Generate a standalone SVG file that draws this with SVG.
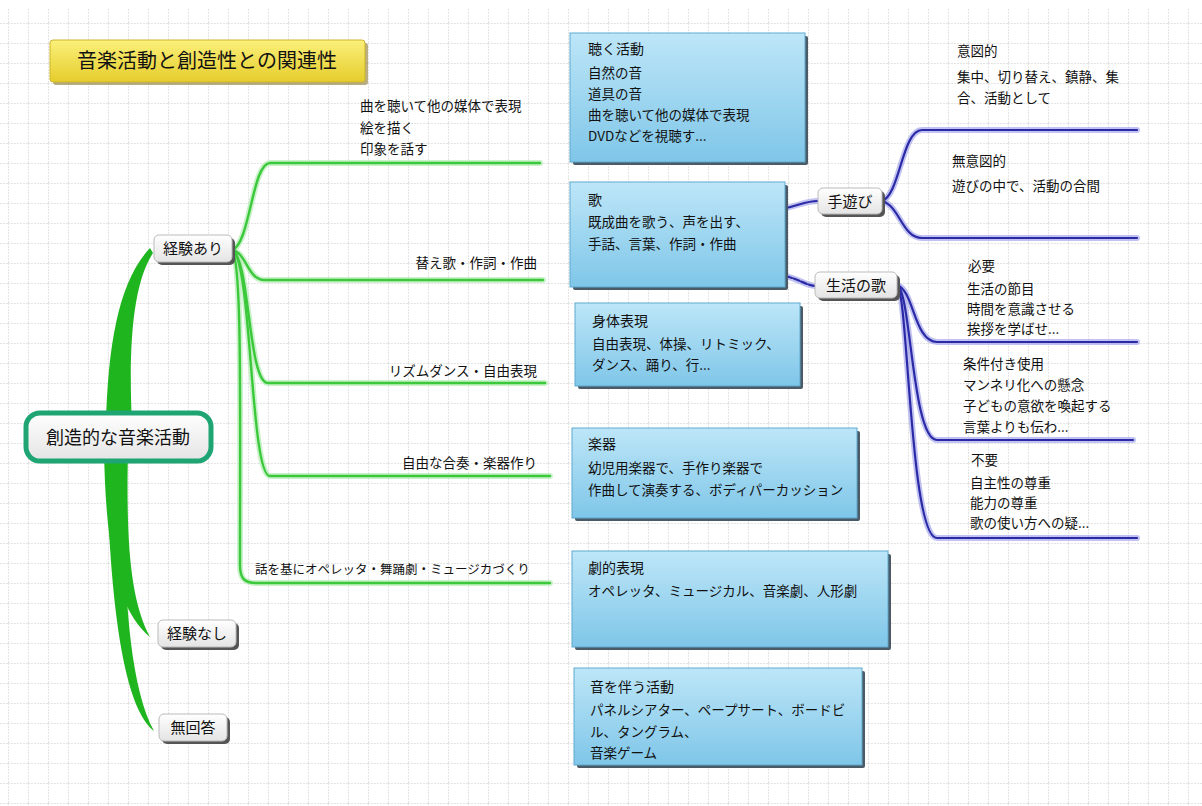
<svg xmlns="http://www.w3.org/2000/svg" width="1202" height="806" viewBox="0 0 1202 806">
<style>
text{font-family:"Noto Sans CJK JP","Noto Sans",sans-serif;fill:#111}
.lbl{font-size:13.5px}
.ttl{font-size:14px}
.node{font-size:15px}
.gl{fill:none;stroke:#3bc93b;stroke-width:2.4;stroke-linecap:round}
.glw{fill:none;stroke:#b4ecb4;stroke-width:6;stroke-linecap:round;opacity:.7}
.bl{fill:none;stroke:#2a2aa6;stroke-width:2.2;stroke-linecap:round}
.blw{fill:none;stroke:#a8a8ec;stroke-width:6;stroke-linecap:round;opacity:.7}
.box{fill:url(#blue);stroke:#5ea9cf;stroke-width:1}
.bsh{fill:#4a5a66}
.nd{fill:url(#gray);stroke:#bbb;stroke-width:1}
.nsh{fill:#555}
</style>
<defs>
<pattern id="grid" x="8" y="3" width="20" height="20" patternUnits="userSpaceOnUse">
<path d="M0 0.5H20M0.5 0V20" fill="none" stroke="#e4e4e4" stroke-width="1" stroke-dasharray="2 1"/>
</pattern>
<linearGradient id="blue" x1="0" y1="0" x2="0" y2="1">
<stop offset="0" stop-color="#bde6f8"/>
<stop offset="1" stop-color="#7fc6e8"/>
</linearGradient>
<linearGradient id="gray" x1="0" y1="0" x2="0" y2="1">
<stop offset="0" stop-color="#ffffff"/>
<stop offset="1" stop-color="#e4e4e4"/>
</linearGradient>
<linearGradient id="yel" x1="0" y1="0" x2="0" y2="1">
<stop offset="0" stop-color="#fbf07a"/>
<stop offset="1" stop-color="#e6cd2c"/>
</linearGradient>
</defs>
<rect width="1202" height="806" fill="#ffffff"/>
<rect x="0" y="8" width="1202" height="798" fill="url(#grid)"/>

<g id="title">
<rect x="53" y="43" width="315" height="42" rx="3" fill="#8a7a30" opacity=".6"/>
<rect x="50" y="40" width="315" height="42" rx="3" fill="url(#yel)" stroke="#cdb42a"/>
<text x="207" y="68" font-size="20" text-anchor="middle">音楽活動と創造性との関連性</text>
</g>

<g id="connectors">
<path d="M106 425 C108 340 120 280 150 248 L153 253 C134 282 128 340 132 425 Z" fill="#1fb51f"/>
<path d="M104 450 L128 450 C126 540 130 600 150 637 C120 612 106 560 104 450 Z" fill="#1fb51f"/>
<path d="M106 450 L126 450 C122 560 126 680 154 731 C130 712 110 640 106 450 Z" fill="#1fb51f"/>

<g>
<path class="glw" d="M232 250 C250 245 252 163 270 163 L540 163"/>
<path class="glw" d="M232 250 C246 252 248 280 264 280 L543 280"/>
<path class="glw" d="M232 250 C250 258 248 383 268 383 L545 383"/>
<path class="glw" d="M232 250 C252 258 250 476 270 476 L550 476"/>
<path class="glw" d="M232 250 C242 262 240 400 240 565 C240 578 244 583 256 583 L550 583"/>
<path class="gl" d="M232 250 C250 245 252 163 270 163 L540 163"/>
<path class="gl" d="M232 250 C246 252 248 280 264 280 L543 280"/>
<path class="gl" d="M232 250 C250 258 248 383 268 383 L545 383"/>
<path class="gl" d="M232 250 C252 258 250 476 270 476 L550 476"/>
<path class="gl" d="M232 250 C242 262 240 400 240 565 C240 578 244 583 256 583 L550 583"/>
</g>

<g>
<path class="blw" d="M786 208 C800 205 806 201 818 201"/>
<path class="blw" d="M786 276 C800 280 806 285 815 286"/>
<path class="blw" d="M882 201 C900 195 902 130 922 130 L1137 130"/>
<path class="blw" d="M882 201 C900 206 902 238 922 238 L1137 238"/>
<path class="blw" d="M897 285 C914 290 914 342 937 342 L1137 342"/>
<path class="blw" d="M897 285 C911 290 912 440 937 440 L1133 440"/>
<path class="blw" d="M897 285 C908 290 910 538 937 538 L1137 538"/>
<path class="bl" d="M786 208 C800 205 806 201 818 201" stroke-width="3"/>
<path class="bl" d="M786 276 C800 280 806 285 815 286" stroke-dasharray="6 2"/>
<path class="bl" d="M882 201 C900 195 902 130 922 130 L1137 130"/>
<path class="bl" d="M882 201 C900 206 902 238 922 238 L1137 238"/>
<path class="bl" d="M897 285 C914 290 914 342 937 342 L1137 342"/>
<path class="bl" d="M897 285 C911 290 912 440 937 440 L1133 440"/>
<path class="bl" d="M897 285 C908 290 910 538 937 538 L1137 538"/>
</g>
</g>

<g id="root">
<rect x="26" y="413" width="185" height="48" rx="14" fill="url(#gray)" stroke="#1fa574" stroke-width="5"/>
<text x="118" y="444" font-size="18" text-anchor="middle">創造的な音楽活動</text>
</g>

<g id="n-keiken-ari">
<rect class="nsh" x="157" y="238" width="78" height="27" rx="5"/>
<rect class="nd" x="154" y="235" width="78" height="27" rx="5"/>
<text class="node" x="193" y="254" text-anchor="middle">経験あり</text>
</g>
<g id="n-keiken-nashi">
<rect class="nsh" x="161" y="623" width="78" height="27" rx="5"/>
<rect class="nd" x="158" y="620" width="78" height="27" rx="5"/>
<text class="node" x="197" y="639" text-anchor="middle">経験なし</text>
</g>
<g id="n-mukaitou">
<rect class="nsh" x="162" y="717" width="68" height="27" rx="5"/>
<rect class="nd" x="159" y="714" width="68" height="27" rx="5"/>
<text class="node" x="193" y="733" text-anchor="middle">無回答</text>
</g>

<g id="l-kyoku">
<text class="lbl" x="360" y="111">曲を聴いて他の媒体で表現</text>
<text class="lbl" x="360" y="133">絵を描く</text>
<text class="lbl" x="360" y="154">印象を話す</text>
</g>
<g id="l-kaeuta"><text class="lbl" x="537" y="268" text-anchor="end">替え歌・作詞・作曲</text></g>
<g id="l-rizumu"><text class="lbl" x="537" y="376" text-anchor="end">リズムダンス・自由表現</text></g>
<g id="l-jiyuu"><text class="lbl" x="537" y="468" text-anchor="end">自由な合奏・楽器作り</text></g>
<g id="l-hanashi"><text class="lbl" x="255" y="574" style="font-size:12.5px">話を基にオペレッタ・舞踊劇・ミュージカづくり</text></g>

<g id="b-kiku">
<rect class="bsh" x="573" y="36" width="235" height="129" rx="2"/>
<rect class="box" x="570" y="33" width="235" height="129"/>
<text class="ttl" x="588" y="54">聴く活動</text>
<text class="lbl" x="588" y="78">自然の音</text>
<text class="lbl" x="588" y="99">道具の音</text>
<text class="lbl" x="588" y="120">曲を聴いて他の媒体で表現</text>
<text class="lbl" x="588" y="141">DVDなどを視聴す...</text>
</g>
<g id="b-uta">
<rect class="bsh" x="573" y="185" width="215" height="105" rx="2"/>
<rect class="box" x="570" y="182" width="215" height="105"/>
<text class="ttl" x="588" y="205">歌</text>
<text class="lbl" x="588" y="227">既成曲を歌う、声を出す、</text>
<text class="lbl" x="588" y="249">手話、言葉、作詞・作曲</text>
</g>
<g id="b-shintai">
<rect class="bsh" x="578" y="306" width="225" height="83" rx="2"/>
<rect class="box" x="575" y="303" width="225" height="83"/>
<text class="ttl" x="592" y="326">身体表現</text>
<text class="lbl" x="592" y="349">自由表現、体操、リトミック、</text>
<text class="lbl" x="592" y="370">ダンス、踊り、行...</text>
</g>
<g id="b-gakki">
<rect class="bsh" x="575" y="431" width="285" height="90" rx="2"/>
<rect class="box" x="572" y="428" width="285" height="90"/>
<text class="ttl" x="588" y="449">楽器</text>
<text class="lbl" x="588" y="473">幼児用楽器で、手作り楽器で</text>
<text class="lbl" x="588" y="495">作曲して演奏する、ボディパーカッション</text>
</g>
<g id="b-geki">
<rect class="bsh" x="575" y="554" width="316" height="96" rx="2"/>
<rect class="box" x="572" y="551" width="316" height="96"/>
<text class="ttl" x="588" y="573">劇的表現</text>
<text class="lbl" x="588" y="596">オペレッタ、ミュージカル、音楽劇、人形劇</text>
</g>
<g id="b-oto">
<rect class="bsh" x="577" y="671" width="288" height="97" rx="2"/>
<rect class="box" x="574" y="668" width="288" height="97"/>
<text class="ttl" x="590" y="692">音を伴う活動</text>
<text class="lbl" x="590" y="715">パネルシアター、ペープサート、ボードビ</text>
<text class="lbl" x="590" y="737">ル、タングラム、</text>
<text class="lbl" x="590" y="758">音楽ゲーム</text>
</g>

<g id="n-teasobi">
<rect class="nsh" x="821" y="191" width="64" height="26" rx="5"/>
<rect class="nd" x="818" y="188" width="64" height="26" rx="5"/>
<text class="node" x="850" y="207" text-anchor="middle">手遊び</text>
</g>
<g id="n-seikatsu">
<rect class="nsh" x="818" y="275" width="82" height="26" rx="5"/>
<rect class="nd" x="815" y="272" width="82" height="26" rx="5"/>
<text class="node" x="856" y="291" text-anchor="middle">生活の歌</text>
</g>

<g id="l-ito">
<text class="lbl" x="957" y="56">意図的</text>
<text class="lbl" x="957" y="82">集中、切り替え、鎮静、集</text>
<text class="lbl" x="957" y="103">合、活動として</text>
</g>
<g id="l-muito">
<text class="lbl" x="952" y="166">無意図的</text>
<text class="lbl" x="952" y="191">遊びの中で、活動の合間</text>
</g>
<g id="l-hitsuyou">
<text class="lbl" x="968" y="271">必要</text>
<text class="lbl" x="967" y="294">生活の節目</text>
<text class="lbl" x="967" y="314">時間を意識させる</text>
<text class="lbl" x="967" y="334">挨拶を学ばせ...</text>
</g>
<g id="l-jouken">
<text class="lbl" x="963" y="369">条件付き使用</text>
<text class="lbl" x="963" y="390">マンネリ化への懸念</text>
<text class="lbl" x="963" y="411">子どもの意欲を喚起する</text>
<text class="lbl" x="963" y="432">言葉よりも伝わ...</text>
</g>
<g id="l-fuyou">
<text class="lbl" x="971" y="465">不要</text>
<text class="lbl" x="970" y="488">自主性の尊重</text>
<text class="lbl" x="970" y="508">能力の尊重</text>
<text class="lbl" x="970" y="528">歌の使い方への疑...</text>
</g>
</svg>
